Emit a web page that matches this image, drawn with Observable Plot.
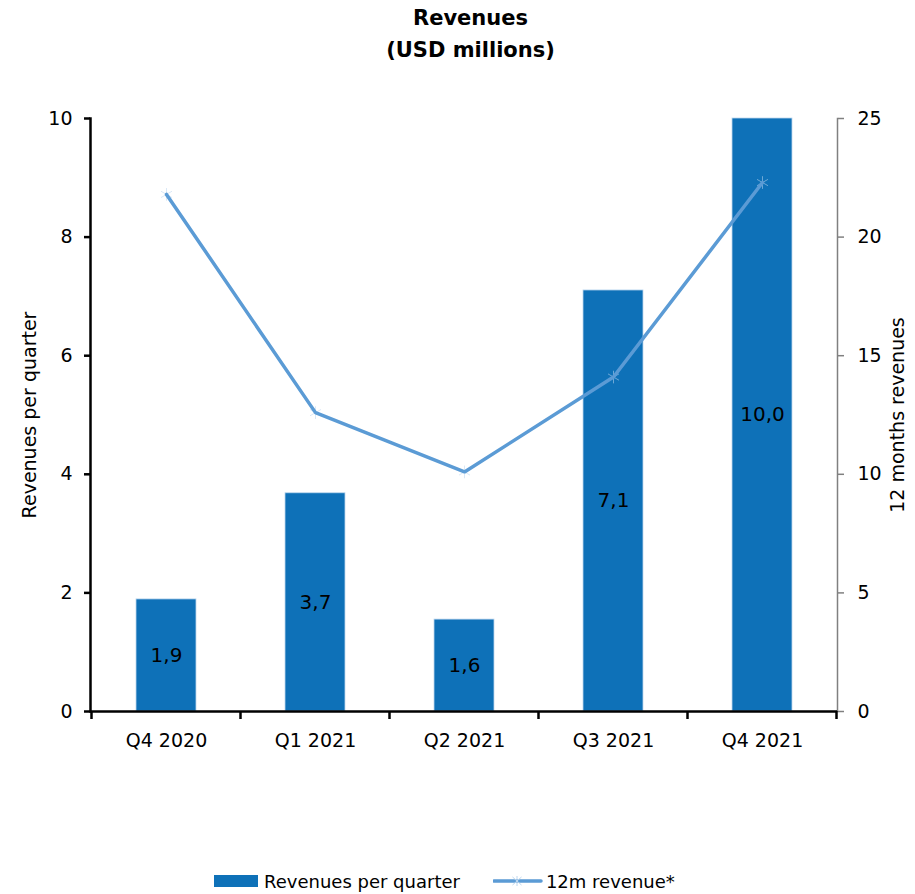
<!DOCTYPE html>
<html>
<head>
<meta charset="utf-8">
<script src="https://cdn.jsdelivr.net/npm/d3@7"></script>
<script src="https://cdn.jsdelivr.net/npm/@observablehq/plot@0.6"></script>
<style>
  html, body { margin: 0; padding: 0; background: #fff; }
  body { width: 915px; height: 894px; overflow: hidden; font-family: "DejaVu Sans", sans-serif; color: #000; }
  #title { height: 88px; box-sizing: border-box; padding-top: 2px; padding-left: 26px; text-align: center; font-weight: bold; font-size: 21px; line-height: 32px; }
  #chart svg { display: block; }
  #legend { height: 94px; box-sizing: border-box; padding-left: 214px; padding-top: 68px; display: flex; align-items: center; font-size: 18px; }
  .item { display: flex; align-items: center; }
  .sw-bar { width: 44px; height: 12px; background: #0E71B8; margin-right: 6px; }
</style>
</head>
<body>
<div id="title">Revenues<br>(USD millions)</div>
<div id="chart"></div>
<div id="legend">
  <div class="item"><div class="sw-bar"></div><span>Revenues per quarter</span></div>
  <div class="item" style="margin-left:33px">
    <svg width="50" height="14" style="margin-right:3px">
      <line x1="1" y1="7" x2="48" y2="7" stroke="#5B9BD5" stroke-width="3.5" stroke-linecap="round"/>
      <g stroke="#BCD6EE" stroke-width="1"><line x1="24" y1="2" x2="24" y2="12"/><line x1="19.5" y1="3" x2="28.5" y2="11"/><line x1="28.5" y1="3" x2="19.5" y2="11"/></g>
    </svg>
    <span>12m revenue*</span>
  </div>
</div>
<script>
// ---- data ----
const quarters = ["Q4 2020", "Q1 2021", "Q2 2021", "Q3 2021", "Q4 2021"];
const quarterlyRevenue = [1.89, 3.68, 1.55, 7.1, 10.0];
const quarterlyLabels = ["1,9", "3,7", "1,6", "7,1", "10,0"];
const twelveMonthRevenue = [21.8, 12.6, 10.1, 14.1, 22.3];
const leftTicks = [0, 2, 4, 6, 8, 10];
const rightTicks = [0, 5, 10, 15, 20, 25];
const leftMax = 10;
const rightMax = 25;
const ratio = rightMax / leftMax;

const rows = quarters.map((q, i) => ({
  q, v: quarterlyRevenue[i], label: quarterlyLabels[i], r: twelveMonthRevenue[i]
}));

const FONT = "DejaVu Sans, sans-serif";

// boundary ticks of the category axis (between bands), via the band scale
function bandBoundaryTicks(index, scales, values, dimensions) {
  const x = scales.x;
  const bw = x.bandwidth();
  const step = x.step ? x.step() : bw / 0.4;
  const gap = (step - bw) / 2;
  const edges = quarters.map(q => x(q) - gap);
  edges.push(x(quarters[quarters.length - 1]) + bw + gap);
  const y0 = scales.y(0);
  const g = d3.create("svg:g").attr("stroke", "#000").attr("stroke-width", 2.5);
  edges.forEach(e => g.append("line").attr("x1", e).attr("x2", e).attr("y1", y0).attr("y2", y0 + 8));
  return g.node();
}

const chart = Plot.plot({
  width: 915,
  height: 712,
  marginTop: 30,
  marginBottom: 89,
  marginLeft: 90,
  marginRight: 78,
  style: { fontFamily: FONT, fontSize: "19px", color: "#000", background: "transparent" },
  x: { domain: quarters, paddingInner: 0.6, paddingOuter: 0.3 },
  y: { domain: [0, leftMax] },
  marks: [
    Plot.barY(rows, { x: "q", y: "v", fill: "#0E71B8", stroke: "#BDD7EE", strokeWidth: 0.8 }),
    Plot.dot(rows, { x: "q", y: d => d.r / ratio, symbol: "asterisk", r: 6, stroke: "#BCD6EE", strokeWidth: 1, strokeOpacity: 0.55 }),
    Plot.line(rows, { x: "q", y: d => d.r / ratio, stroke: "#5B9BD5", strokeWidth: 3.5, strokeLinejoin: "miter" }),
    Plot.text(rows, { x: "q", y: d => d.v / 2, text: "label", fill: "#000", fontSize: 20 }),
    Plot.axisX({ tickSize: 0, tickPadding: 22, fontSize: 19, label: null }),
    Plot.axisY(leftTicks, { anchor: "left", tickSize: 6, tickPadding: 12, strokeWidth: 2.5, fontSize: 19,
      tickFormat: d => String(d),
      label: "Revenues per quarter", labelAnchor: "center", labelOffset: 68, labelArrow: "none" }),
    Plot.axisY(rightTicks.map(t => t / ratio), { anchor: "right", tickSize: 6, tickPadding: 14, stroke: "#808080", strokeWidth: 1.5, fontSize: 19,
      tickFormat: d => String(Math.round(d * ratio)),
      label: "12 months revenues", labelAnchor: "center", labelOffset: 66, labelArrow: "none" }),
    Plot.frame({ anchor: "right", stroke: "#808080", strokeWidth: 1.5 }),
    Plot.frame({ anchor: "left", stroke: "#000", strokeWidth: 2.5 }),
    Plot.ruleY([0], { stroke: "#000", strokeWidth: 2.5 }),
    bandBoundaryTicks
  ]
});
document.getElementById("chart").appendChild(chart);
</script>
</body>
</html>
